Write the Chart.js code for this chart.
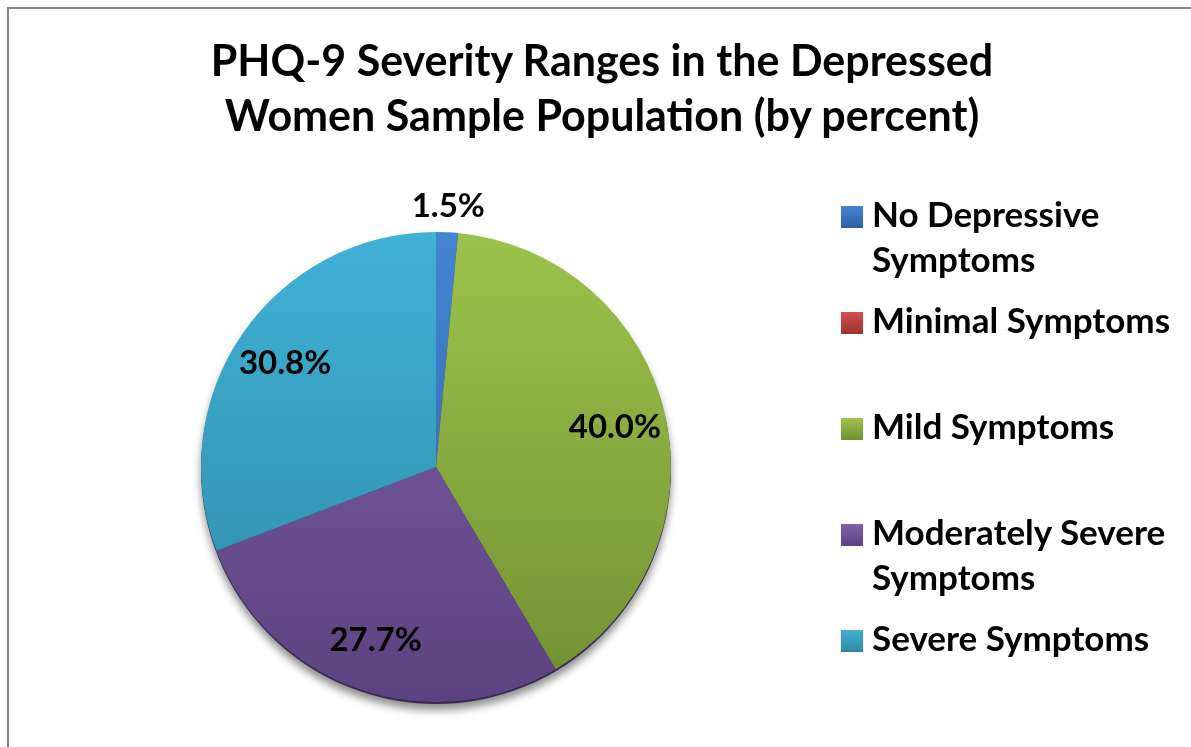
<!DOCTYPE html>
<html>
<head>
    <title>PHQ-9 Severity Ranges</title>
    <script src="https://cdn.jsdelivr.net/npm/chart.js"></script>
    <style>
        body {
            margin: 0;
            background: #fff;
            font-family: Lato, "Open Sans", sans-serif;
        }
        .frame {
            position: absolute;
            left: 7px;
            top: 7px;
            width: 1400px;
            height: 1000px;
            border: 2px solid #878787;
        }
        .chart-container {
            position: absolute;
            left: 0;
            top: 0;
            width: 1191px;
            height: 747px;
        }
        #title {
            position: absolute;
            left: 0;
            top: 32px;
            width: 1204px;
            text-align: center;
            font-weight: bold;
            font-size: 43px;
            line-height: 55px;
            color: #000;
        }
        #legend {
            position: absolute;
            left: 841px;
            top: 206px;
            margin: 0;
            padding: 0;
            list-style: none;
        }
        #legend li {
            height: 106px;
            display: flex;
            align-items: flex-start;
        }
        #legend .box {
            width: 22px;
            height: 22px;
            flex: none;
            margin-right: 9px;
        }
        #legend .txt {
            font-weight: bold;
            font-size: 35px;
            line-height: 45px;
            margin-top: -15px;
            max-width: 330px;
            color: #000;
        }
    </style>
</head>
<body>
    <div class="frame"></div>
    <div class="chart-container">
        <canvas id="pieChart"></canvas>
    </div>
    <div id="title">PHQ-9 Severity Ranges in the Depressed<br>Women Sample Population (by percent)</div>
    <ul id="legend"></ul>
    <script>
        // data
        const categories = ['No Depressive Symptoms', 'Minimal Symptoms', 'Mild Symptoms',
            'Moderately Severe Symptoms', 'Severe Symptoms'];
        const percents = [1.5, 0, 40.0, 27.7, 30.8];

        // light / dark ends of each slice gradient
        const topColors = ['#4285d4', '#d24f4b', '#9dc24b', '#8062a9', '#3fb2d6'];
        const bottomColors = ['#2f60a0', '#9c3431', '#728f32', '#5b4280', '#2f88a4'];

        function sliceFill(context) {
            const chart = context.chart;
            const area = chart.chartArea;
            const i = context.dataIndex;
            if (!area) return topColors[i];
            const g = chart.ctx.createLinearGradient(0, area.top, 0, area.bottom);
            g.addColorStop(0, topColors[i]);
            g.addColorStop(1, bottomColors[i]);
            return g;
        }

        // soft shadow under the pie
        const pieShadow = {
            id: 'pieShadow',
            beforeDatasetsDraw(chart) {
                const arc = chart.getDatasetMeta(0).data[0];
                if (!arc) return;
                const ctx = chart.ctx;
                ctx.save();
                ctx.shadowColor = 'rgba(0,0,0,0.45)';
                ctx.shadowBlur = 8;
                ctx.shadowOffsetY = 6;
                ctx.fillStyle = '#3a2c52';
                ctx.beginPath();
                ctx.arc(arc.x, arc.y + 2, arc.outerRadius, 0, Math.PI * 2);
                ctx.fill();
                ctx.restore();
            }
        };

        // percent labels
        const pctLabels = {
            id: 'pctLabels',
            afterDatasetsDraw(chart) {
                const ctx = chart.ctx;
                const meta = chart.getDatasetMeta(0);
                ctx.save();
                ctx.font = 'bold 33px Lato, "Open Sans", sans-serif';
                ctx.fillStyle = '#000';
                ctx.textAlign = 'center';
                ctx.textBaseline = 'middle';
                meta.data.forEach((arc, i) => {
                    const v = percents[i];
                    if (!v) return;
                    const mid = (arc.startAngle + arc.endAngle) / 2;
                    const r = v < 5 ? arc.outerRadius + 26 : arc.outerRadius * 0.78;
                    const x = arc.x + Math.cos(mid) * r;
                    const y = arc.y + Math.sin(mid) * r;
                    ctx.fillText(v.toFixed(1) + '%', x, y);
                });
                ctx.restore();
            }
        };

        const ctx = document.getElementById('pieChart').getContext('2d');
        new Chart(ctx, {
            type: 'pie',
            data: {
                labels: categories,
                datasets: [{
                    data: percents,
                    backgroundColor: sliceFill,
                    borderWidth: 0
                }]
            },
            options: {
                responsive: true,
                maintainAspectRatio: false,
                animation: false,
                layout: {
                    padding: { left: 201, right: 520, top: 232, bottom: 45 }
                },
                plugins: {
                    legend: { display: false },
                    tooltip: { enabled: false },
                    title: { display: false }
                }
            },
            plugins: [pieShadow, pctLabels]
        });

        // legend on the right
        const legend = document.getElementById('legend');
        categories.forEach((name, i) => {
            const li = document.createElement('li');
            const box = document.createElement('span');
            box.className = 'box';
            box.style.background = 'linear-gradient(' + topColors[i] + ', ' + bottomColors[i] + ')';
            const txt = document.createElement('span');
            txt.className = 'txt';
            txt.textContent = name;
            li.appendChild(box);
            li.appendChild(txt);
            legend.appendChild(li);
        });
    </script>
</body>
</html>
